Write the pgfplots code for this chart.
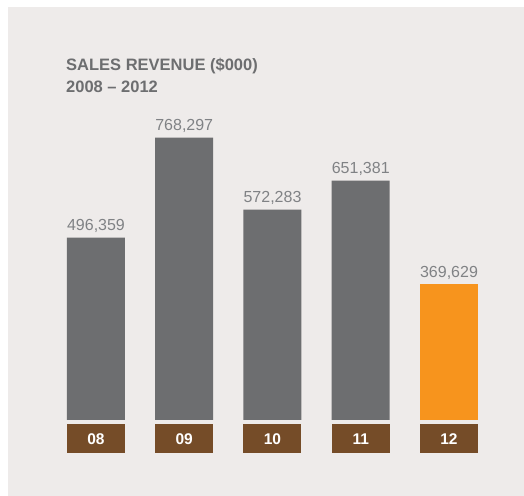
\documentclass[border=0pt]{standalone}
\usepackage{pgfplots}
\pgfplotsset{compat=1.18}
\usepackage{fontspec}
\setmainfont{Liberation Sans}
\definecolor{panel}{HTML}{EEEBEA}
\definecolor{bargray}{HTML}{6D6E70}
\definecolor{barorange}{HTML}{F7941D}
\definecolor{boxbrown}{HTML}{754C28}
\definecolor{titlegray}{HTML}{6D6E70}
\definecolor{labelgray}{HTML}{808285}
\begin{document}
\begin{tikzpicture}
\useasboundingbox (0,0) rectangle (524bp,496bp);
\fill[white] (0,0) rectangle (524bp,496bp);
\fill[panel] (8bp,0) rectangle (524bp,489bp);
% title
\node[anchor=base west, inner sep=0, text=titlegray,
      font=\fontsize{16.5bp}{20bp}\selectfont\bfseries] at (66bp,425.7bp) {SALES REVENUE (\$000)};
\node[anchor=base west, inner sep=0, text=titlegray,
      font=\fontsize{16.5bp}{20bp}\selectfont\bfseries] at (66bp,403.7bp) {2008 -- 2012};
\begin{axis}[
    at={(8bp,72bp)}, anchor=south west,
    scale only axis,
    width=516bp, height=417bp,
    xmin=-0.997, xmax=4.85,
    ymin=-10880, ymax=1123360,
    axis line style={draw=none},
    major tick length=0pt,
    ytick=\empty,
    xtick={0,...,4},
    xticklabels={08,09,10,11,12},
    xticklabel style={fill=boxbrown, text=white, inner sep=0,
        minimum width=58bp, minimum height=29bp, anchor=north,
        font=\fontsize{15.5bp}{18bp}\selectfont\bfseries},
    ybar, bar width=58bp, bar shift=0pt,
    nodes near coords={\pgfmathprintnumber[fixed,precision=0,1000 sep={,},assume math mode=true]{\pgfplotspointmeta}},
    every node near coord/.append style={anchor=base, inner sep=0, yshift=6.7bp,
        text=labelgray, font=\fontsize{16bp}{19bp}\selectfont},
]
\addplot[fill=bargray, draw=none] coordinates {(0,496359) (1,768297) (2,572283) (3,651381)};
\addplot[fill=barorange, draw=none] coordinates {(4,369629)};
\end{axis}
\end{tikzpicture}
\end{document}
